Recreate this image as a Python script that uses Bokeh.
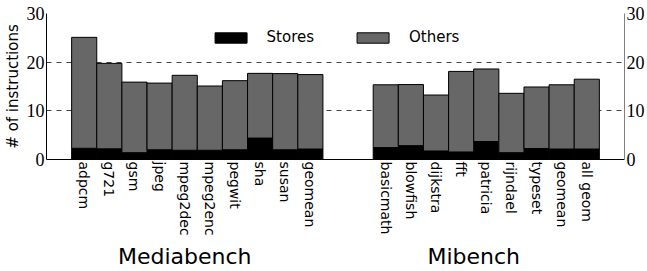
import math
from bokeh.plotting import figure
from bokeh.models import (ColumnDataSource, LinearAxis, FixedTicker, Range1d,
                          Legend, LegendItem)
from bokeh.embed import file_html
from bokeh.resources import INLINE

# ---- data ----
media_names = ["adpcm", "g721", "gsm", "jpeg", "mpeg2dec", "mpeg2enc",
               "pegwit", "sha", "susan", "geomean"]
media_stores = [2.3, 2.2, 1.4, 2.0, 1.9, 1.9, 2.0, 4.4, 2.0, 2.15]
media_others = [22.8, 17.55, 14.5, 13.7, 15.4, 13.2, 14.2, 13.3, 15.65, 15.3]

mi_names = ["basicmath", "blowfish", "dijkstra", "fft", "patricia",
            "rijndael", "typeset", "geomean", "all geom"]
mi_stores = [2.45, 2.85, 1.75, 1.55, 3.7, 1.4, 2.25, 2.15, 2.15]
mi_others = [12.9, 12.55, 11.5, 16.55, 14.9, 12.2, 12.65, 13.2, 14.35]

group_names = ["Mediabench", "Mibench"]
series_names = ["Stores", "Others"]
y_ticks = [0, 10, 20, 30]

# ---- layout of bars (category slots) ----
lead = 1      # empty slots before first group
gap = 2       # empty slots between groups
trail = 1
media_x = [lead + i + 0.5 for i in range(len(media_names))]
mi_start = lead + len(media_names) + gap
mi_x = [mi_start + j + 0.5 for j in range(len(mi_names))]
x_end = mi_start + len(mi_names) + trail

src = ColumnDataSource(dict(
    x=media_x + mi_x,
    stores=media_stores + mi_stores,
    others=media_others + mi_others,
))

p = figure(width=647, height=271, output_backend="svg", toolbar_location=None,
           x_range=Range1d(0, x_end), y_range=Range1d(0, y_ticks[-1]),
           min_border=0)
p.min_border_top = 13
p.min_border_left = 0
p.min_border_right = 0
p.min_border_bottom = 0
p.outline_line_color = None
p.background_fill_color = "white"

rs = p.vbar_stack(["stores", "others"], x="x", width=1.0, source=src,
                  fill_color=["black", "#676767"], line_color="black",
                  line_width=1)

# grid
p.xgrid.visible = False
p.ygrid.ticker = FixedTicker(ticks=y_ticks)
p.ygrid.grid_line_color = "#444444"
p.ygrid.grid_line_dash = "5 5"
p.ygrid.grid_line_width = 1

# left axis
ya = p.yaxis[0]
ya.ticker = FixedTicker(ticks=y_ticks)
ya.axis_label = "# of instructions"
ya.axis_label_text_font = "DejaVu Sans"
ya.axis_label_text_font_style = "normal"
ya.axis_label_text_font_size = "15px"
ya.axis_label_text_color = "black"
ya.axis_label_standoff = 2
ya.major_label_text_font = "Liberation Serif"
ya.major_label_text_font_size = "18px"
ya.major_label_text_color = "black"
ya.major_label_standoff = 2
ya.major_tick_out = 0
ya.major_tick_in = 0
ya.minor_tick_out = 0
ya.minor_tick_in = 0
ya.axis_line_color = "black"

# right axis
ra = LinearAxis(ticker=FixedTicker(ticks=y_ticks))
ra.major_label_text_font = "Liberation Serif"
ra.major_label_text_font_size = "18px"
ra.major_label_text_color = "black"
ra.major_label_standoff = 2
ra.major_tick_out = 0
ra.major_tick_in = 0
ra.minor_tick_out = 0
ra.minor_tick_in = 0
ra.axis_line_color = "#808080"
p.add_layout(ra, "right")

# bottom axis with benchmark names
xa = p.xaxis[0]
all_x = media_x + mi_x
all_names = media_names + mi_names
xa.ticker = FixedTicker(ticks=all_x)
xa.major_label_overrides = {x: n for x, n in zip(all_x, all_names)}
xa.major_label_orientation = -math.pi / 2
xa.major_label_text_font = "DejaVu Sans"
xa.major_label_text_font_size = "14px"
xa.major_label_text_color = "black"
xa.major_label_standoff = 2
xa.major_tick_out = 0
xa.major_tick_in = 0
xa.minor_tick_out = 0
xa.minor_tick_in = 0
xa.axis_line_color = "black"

# group axis
g_pos = [sum(v - 0.5 for v in media_x) / len(media_x),
         sum(v - 0.5 for v in mi_x) / len(mi_x)]
ga = LinearAxis(ticker=FixedTicker(ticks=g_pos))
ga.major_label_overrides = {x: n for x, n in zip(g_pos, group_names)}
ga.major_label_text_font = "DejaVu Sans"
ga.major_label_text_font_size = "22px"
ga.major_label_text_color = "black"
ga.major_label_standoff = 5
ga.axis_line_color = None
ga.major_tick_out = 0
ga.major_tick_in = 0
ga.minor_tick_out = 0
ga.minor_tick_in = 0
p.add_layout(ga, "below")

legend = Legend(items=[LegendItem(label=series_names[0], renderers=[rs[0]]),
                       LegendItem(label=series_names[1], renderers=[rs[1]])],
                orientation="horizontal", location="top_center")
legend.glyph_width = 40
legend.glyph_height = 13
legend.label_standoff = 16
legend.spacing = 39
legend.padding = 0
legend.margin = 15
legend.border_line_color = None
legend.background_fill_alpha = 0
legend.label_text_font = "DejaVu Sans"
legend.label_text_font_size = "15px"
legend.label_text_color = "black"
p.add_layout(legend, "center")

open("out.html", "w").write(file_html(p, INLINE))
